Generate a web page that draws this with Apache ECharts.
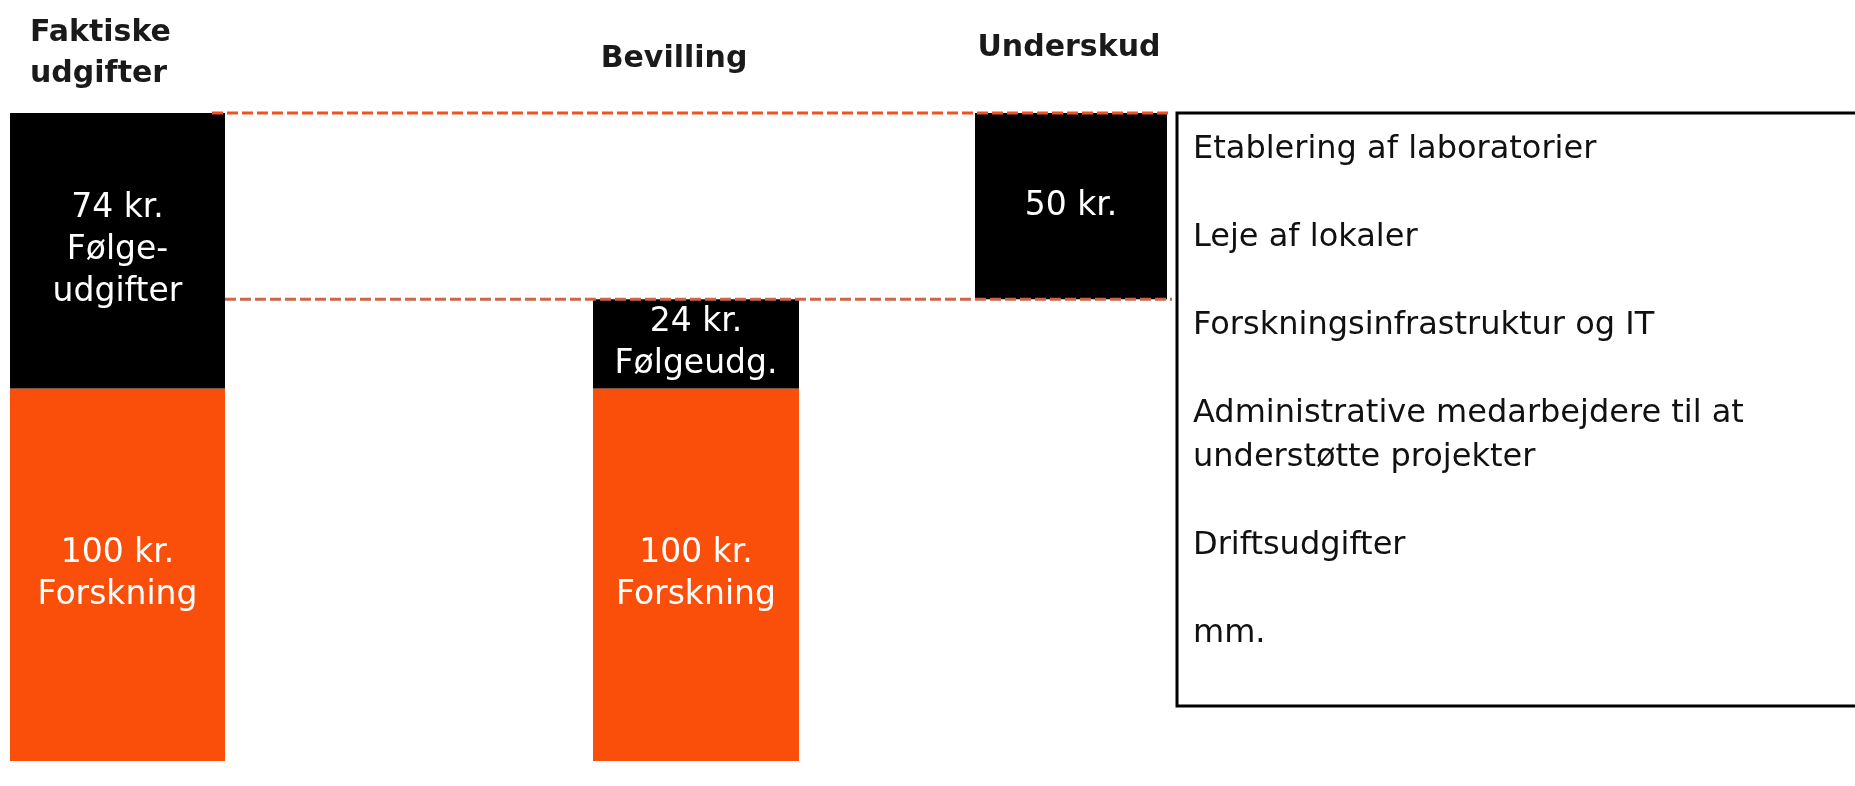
<!DOCTYPE html>
<html lang="da">
  <head>
    <meta charset="UTF-8" />
    <title>Følgeudgifter</title>
    <script src="https://cdn.jsdelivr.net/npm/echarts@6/dist/echarts.min.js"></script>
    <style>
      html, body { margin: 0; padding: 0; background: #fff; }
    </style>
  </head>
  <body>
    <div id="main" style="width: 1855px; height: 786px"></div>

    <script>
      // kolonner
      const columns = ['Faktiske\nudgifter', 'Bevilling', 'Underskud']

      // værdier i kr. pr. kolonne
      const forskning = [100, 100, null]
      const folgeudgifter = [74, 24, null]
      const underskud = [null, null, 50]

      const forskningLabels = ['100 kr.\nForskning', '100 kr.\nForskning', '']
      const folgeLabels = ['74 kr.\nFølge-\nudgifter', '24 kr.\nFølgeudg.', '']
      const underskudLabels = ['', '', '50 kr.']

      const costItems = [
        'Etablering af laboratorier',
        'Leje af lokaler',
        'Forskningsinfrastruktur og IT',
        'Administrative medarbejdere til at\nunderstøtte projekter',
        'Driftsudgifter',
        'mm.',
      ]

      // layout: hver kolonne får sit eget grid (venstre kant, bredde i px)
      const columnLeft = [10, 593, 975]
      const columnWidth = [215, 206, 192]
      const guideLeft = 212
      const guideRight = 1172
      const topGuideSpan = [0, 1]
      const lowGuideSpan = [0.0135, 1]

      const ORANGE = '#f94f0b'
      const BLACK = '#000'
      const PLOT_TOP = 113
      const PLOT_BOTTOM = 25

      const total = forskning[0] + folgeudgifter[0] // 174
      const bevilling = forskning[1] + folgeudgifter[1] // 124
      const baseValues = [null, null, bevilling]

      const labelStyle = {
        show: true,
        position: 'inside',
        color: '#fff',
        fontFamily: 'DejaVu Sans',
        fontSize: 33,
        lineHeight: 42,
      }

      const parts = [
        { name: 'Forskning', values: forskning, labels: forskningLabels, color: ORANGE },
        { name: 'Følgeudgifter', values: folgeudgifter, labels: folgeLabels, color: BLACK },
        { name: 'base', values: baseValues, labels: null, color: 'transparent' },
        { name: 'Underskud', values: underskud, labels: underskudLabels, color: BLACK },
      ]

      const grids = []
      const xAxes = []
      const yAxes = []
      const barSeries = []
      columns.forEach((col, i) => {
        grids.push({ left: columnLeft[i], width: columnWidth[i], top: PLOT_TOP, bottom: PLOT_BOTTOM })
        xAxes.push({ type: 'category', gridIndex: i, data: [col], show: false })
        yAxes.push({ type: 'value', gridIndex: i, min: 0, max: total, show: false })
        parts.forEach(p => {
          if (p.values[i] == null) return
          barSeries.push({
            name: p.name,
            type: 'bar',
            xAxisIndex: i,
            yAxisIndex: i,
            stack: 'col' + i,
            barWidth: '100%',
            itemStyle: { color: p.color },
            label: p.labels ? { ...labelStyle, formatter: p.labels[i] } : { show: false },
            data: [p.values[i]],
          })
        })
      })

      // grid til de stiplede hjælpelinjer
      const g = columns.length
      grids.push({ left: guideLeft, width: guideRight - guideLeft, top: PLOT_TOP, bottom: PLOT_BOTTOM })
      xAxes.push({ type: 'value', gridIndex: g, min: 0, max: 1, show: false })
      yAxes.push({ type: 'value', gridIndex: g, min: 0, max: total, show: false })

      const headerPos = [
        { x: 30, y: 13, align: 'left', verticalAlign: 'top' },
        { x: 674, y: 59, align: 'center', verticalAlign: 'middle' },
        { x: 1069, y: 48, align: 'center', verticalAlign: 'middle' },
      ]

      const chart = echarts.init(document.getElementById('main'))

      const options = {
        animation: false,
        grid: grids,
        xAxis: xAxes,
        yAxis: yAxes,
        series: [
          ...barSeries,
          {
            type: 'line',
            xAxisIndex: g,
            yAxisIndex: g,
            symbol: 'none',
            clip: false,
            z: 5,
            lineStyle: { color: '#f2521f', width: 3, type: [11, 4] },
            data: topGuideSpan.map(x => [x, total]),
          },
          {
            type: 'line',
            xAxisIndex: g,
            yAxisIndex: g,
            symbol: 'none',
            clip: false,
            z: 5,
            lineStyle: { color: '#cc654a', width: 3, type: [11, 4] },
            data: lowGuideSpan.map(x => [x, bevilling]),
          },
        ],
        graphic: [
          ...columns.map((c, i) => ({
            type: 'text',
            x: headerPos[i].x,
            y: headerPos[i].y,
            style: {
              text: c,
              fill: '#1a1a1a',
              fontFamily: 'DejaVu Sans',
              fontWeight: 'bold',
              fontSize: 30,
              lineHeight: 41,
              align: headerPos[i].align,
              verticalAlign: headerPos[i].verticalAlign,
            },
          })),
          {
            type: 'rect',
            shape: { x: 1177, y: 113, width: 720, height: 593 },
            style: { fill: 'none', stroke: '#000', lineWidth: 3 },
          },
          {
            type: 'text',
            x: 1193,
            y: 128,
            style: {
              text: costItems.join('\n\n'),
              fill: '#111',
              fontFamily: 'DejaVu Sans',
              fontSize: 32,
              lineHeight: 44,
            },
          },
        ],
      }

      chart.setOption(options)
    </script>
  </body>
</html>
